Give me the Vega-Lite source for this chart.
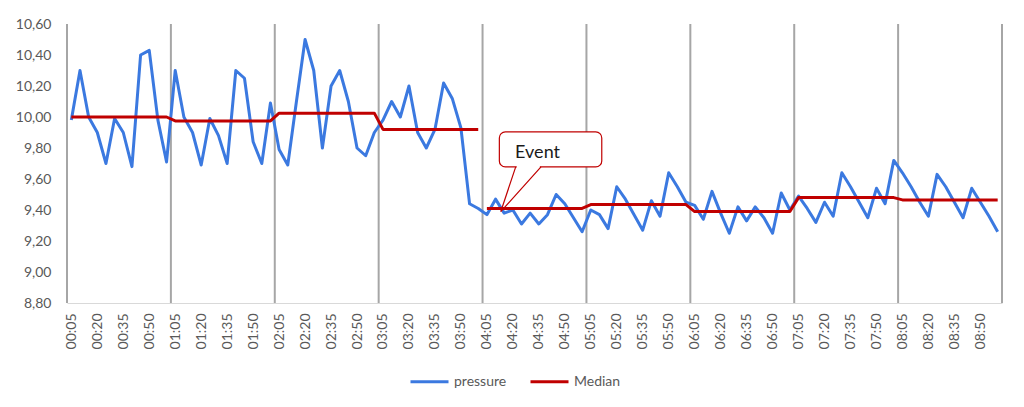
{
  "$schema": "https://vega.github.io/schema/vega-lite/v6.json",
  "width": 935,
  "height": 279,
  "autosize": {"type": "none"},
  "padding": {"left": 67, "top": 24, "right": 22, "bottom": 104},
  "background": "white",
  "config": {
    "view": {"stroke": null},
    "font": "Lato",
    "axis": {"labelFont": "Lato", "labelFontSize": 14, "labelColor": "#595959", "title": null},
    "axisY": {
      "values": [8.8, 9.0, 9.2, 9.4, 9.6, 9.8, 10.0, 10.2, 10.4, 10.6],
      "labelExpr": "replace(format(datum.value, '.2f'), '.', ',')",
      "labelPadding": 16,
      "ticks": false,
      "grid": false,
      "domain": false,
      "title": null
    }
  },
  "datasets": {
    "series": [
      {"t": "00:05", "i": 0, "pressure": 9.98, "median": 10.0, "seg": 1},
      {"t": "00:10", "i": 1, "pressure": 10.30, "median": 10.0, "seg": 1},
      {"t": "00:15", "i": 2, "pressure": 10.00, "median": 10.0, "seg": 1},
      {"t": "00:20", "i": 3, "pressure": 9.90, "median": 10.0, "seg": 1},
      {"t": "00:25", "i": 4, "pressure": 9.70, "median": 10.0, "seg": 1},
      {"t": "00:30", "i": 5, "pressure": 9.99, "median": 10.0, "seg": 1},
      {"t": "00:35", "i": 6, "pressure": 9.90, "median": 10.0, "seg": 1},
      {"t": "00:40", "i": 7, "pressure": 9.68, "median": 10.0, "seg": 1},
      {"t": "00:45", "i": 8, "pressure": 10.40, "median": 10.0, "seg": 1},
      {"t": "00:50", "i": 9, "pressure": 10.43, "median": 10.0, "seg": 1},
      {"t": "00:55", "i": 10, "pressure": 9.98, "median": 10.0, "seg": 1},
      {"t": "01:00", "i": 11, "pressure": 9.71, "median": 10.0, "seg": 1},
      {"t": "01:05", "i": 12, "pressure": 10.30, "median": 9.975, "seg": 1},
      {"t": "01:10", "i": 13, "pressure": 10.00, "median": 9.975, "seg": 1},
      {"t": "01:15", "i": 14, "pressure": 9.90, "median": 9.975, "seg": 1},
      {"t": "01:20", "i": 15, "pressure": 9.69, "median": 9.975, "seg": 1},
      {"t": "01:25", "i": 16, "pressure": 9.99, "median": 9.975, "seg": 1},
      {"t": "01:30", "i": 17, "pressure": 9.88, "median": 9.975, "seg": 1},
      {"t": "01:35", "i": 18, "pressure": 9.70, "median": 9.975, "seg": 1},
      {"t": "01:40", "i": 19, "pressure": 10.30, "median": 9.975, "seg": 1},
      {"t": "01:45", "i": 20, "pressure": 10.25, "median": 9.975, "seg": 1},
      {"t": "01:50", "i": 21, "pressure": 9.84, "median": 9.975, "seg": 1},
      {"t": "01:55", "i": 22, "pressure": 9.70, "median": 9.975, "seg": 1},
      {"t": "02:00", "i": 23, "pressure": 10.09, "median": 9.975, "seg": 1},
      {"t": "02:05", "i": 24, "pressure": 9.79, "median": 10.025, "seg": 1},
      {"t": "02:10", "i": 25, "pressure": 9.69, "median": 10.025, "seg": 1},
      {"t": "02:15", "i": 26, "pressure": 10.10, "median": 10.025, "seg": 1},
      {"t": "02:20", "i": 27, "pressure": 10.50, "median": 10.025, "seg": 1},
      {"t": "02:25", "i": 28, "pressure": 10.30, "median": 10.025, "seg": 1},
      {"t": "02:30", "i": 29, "pressure": 9.80, "median": 10.025, "seg": 1},
      {"t": "02:35", "i": 30, "pressure": 10.20, "median": 10.025, "seg": 1},
      {"t": "02:40", "i": 31, "pressure": 10.30, "median": 10.025, "seg": 1},
      {"t": "02:45", "i": 32, "pressure": 10.10, "median": 10.025, "seg": 1},
      {"t": "02:50", "i": 33, "pressure": 9.80, "median": 10.025, "seg": 1},
      {"t": "02:55", "i": 34, "pressure": 9.75, "median": 10.025, "seg": 1},
      {"t": "03:00", "i": 35, "pressure": 9.90, "median": 10.025, "seg": 1},
      {"t": "03:05", "i": 36, "pressure": 9.98, "median": 9.92, "seg": 1},
      {"t": "03:10", "i": 37, "pressure": 10.10, "median": 9.92, "seg": 1},
      {"t": "03:15", "i": 38, "pressure": 10.00, "median": 9.92, "seg": 1},
      {"t": "03:20", "i": 39, "pressure": 10.20, "median": 9.92, "seg": 1},
      {"t": "03:25", "i": 40, "pressure": 9.90, "median": 9.92, "seg": 1},
      {"t": "03:30", "i": 41, "pressure": 9.80, "median": 9.92, "seg": 1},
      {"t": "03:35", "i": 42, "pressure": 9.92, "median": 9.92, "seg": 1},
      {"t": "03:40", "i": 43, "pressure": 10.22, "median": 9.92, "seg": 1},
      {"t": "03:45", "i": 44, "pressure": 10.12, "median": 9.92, "seg": 1},
      {"t": "03:50", "i": 45, "pressure": 9.93, "median": 9.92, "seg": 1},
      {"t": "03:55", "i": 46, "pressure": 9.44, "median": 9.92, "seg": 1},
      {"t": "04:00", "i": 47, "pressure": 9.41, "median": 9.92, "seg": 1},
      {"t": "04:05", "i": 48, "pressure": 9.37, "median": 9.41, "seg": 2},
      {"t": "04:10", "i": 49, "pressure": 9.47, "median": 9.41, "seg": 2},
      {"t": "04:15", "i": 50, "pressure": 9.38, "median": 9.41, "seg": 2},
      {"t": "04:20", "i": 51, "pressure": 9.40, "median": 9.41, "seg": 2},
      {"t": "04:25", "i": 52, "pressure": 9.31, "median": 9.41, "seg": 2},
      {"t": "04:30", "i": 53, "pressure": 9.38, "median": 9.41, "seg": 2},
      {"t": "04:35", "i": 54, "pressure": 9.31, "median": 9.41, "seg": 2},
      {"t": "04:40", "i": 55, "pressure": 9.37, "median": 9.41, "seg": 2},
      {"t": "04:45", "i": 56, "pressure": 9.50, "median": 9.41, "seg": 2},
      {"t": "04:50", "i": 57, "pressure": 9.44, "median": 9.41, "seg": 2},
      {"t": "04:55", "i": 58, "pressure": 9.35, "median": 9.41, "seg": 2},
      {"t": "05:00", "i": 59, "pressure": 9.26, "median": 9.41, "seg": 2},
      {"t": "05:05", "i": 60, "pressure": 9.40, "median": 9.435, "seg": 2},
      {"t": "05:10", "i": 61, "pressure": 9.37, "median": 9.435, "seg": 2},
      {"t": "05:15", "i": 62, "pressure": 9.28, "median": 9.435, "seg": 2},
      {"t": "05:20", "i": 63, "pressure": 9.55, "median": 9.435, "seg": 2},
      {"t": "05:25", "i": 64, "pressure": 9.47, "median": 9.435, "seg": 2},
      {"t": "05:30", "i": 65, "pressure": 9.37, "median": 9.435, "seg": 2},
      {"t": "05:35", "i": 66, "pressure": 9.27, "median": 9.435, "seg": 2},
      {"t": "05:40", "i": 67, "pressure": 9.46, "median": 9.435, "seg": 2},
      {"t": "05:45", "i": 68, "pressure": 9.36, "median": 9.435, "seg": 2},
      {"t": "05:50", "i": 69, "pressure": 9.64, "median": 9.435, "seg": 2},
      {"t": "05:55", "i": 70, "pressure": 9.55, "median": 9.435, "seg": 2},
      {"t": "06:00", "i": 71, "pressure": 9.45, "median": 9.435, "seg": 2},
      {"t": "06:05", "i": 72, "pressure": 9.43, "median": 9.39, "seg": 2},
      {"t": "06:10", "i": 73, "pressure": 9.34, "median": 9.39, "seg": 2},
      {"t": "06:15", "i": 74, "pressure": 9.52, "median": 9.39, "seg": 2},
      {"t": "06:20", "i": 75, "pressure": 9.38, "median": 9.39, "seg": 2},
      {"t": "06:25", "i": 76, "pressure": 9.25, "median": 9.39, "seg": 2},
      {"t": "06:30", "i": 77, "pressure": 9.42, "median": 9.39, "seg": 2},
      {"t": "06:35", "i": 78, "pressure": 9.33, "median": 9.39, "seg": 2},
      {"t": "06:40", "i": 79, "pressure": 9.42, "median": 9.39, "seg": 2},
      {"t": "06:45", "i": 80, "pressure": 9.35, "median": 9.39, "seg": 2},
      {"t": "06:50", "i": 81, "pressure": 9.25, "median": 9.39, "seg": 2},
      {"t": "06:55", "i": 82, "pressure": 9.51, "median": 9.39, "seg": 2},
      {"t": "07:00", "i": 83, "pressure": 9.40, "median": 9.39, "seg": 2},
      {"t": "07:05", "i": 84, "pressure": 9.49, "median": 9.48, "seg": 2},
      {"t": "07:10", "i": 85, "pressure": 9.41, "median": 9.48, "seg": 2},
      {"t": "07:15", "i": 86, "pressure": 9.32, "median": 9.48, "seg": 2},
      {"t": "07:20", "i": 87, "pressure": 9.45, "median": 9.48, "seg": 2},
      {"t": "07:25", "i": 88, "pressure": 9.36, "median": 9.48, "seg": 2},
      {"t": "07:30", "i": 89, "pressure": 9.64, "median": 9.48, "seg": 2},
      {"t": "07:35", "i": 90, "pressure": 9.55, "median": 9.48, "seg": 2},
      {"t": "07:40", "i": 91, "pressure": 9.45, "median": 9.48, "seg": 2},
      {"t": "07:45", "i": 92, "pressure": 9.35, "median": 9.48, "seg": 2},
      {"t": "07:50", "i": 93, "pressure": 9.54, "median": 9.48, "seg": 2},
      {"t": "07:55", "i": 94, "pressure": 9.44, "median": 9.48, "seg": 2},
      {"t": "08:00", "i": 95, "pressure": 9.72, "median": 9.48, "seg": 2},
      {"t": "08:05", "i": 96, "pressure": 9.64, "median": 9.465, "seg": 2},
      {"t": "08:10", "i": 97, "pressure": 9.55, "median": 9.465, "seg": 2},
      {"t": "08:15", "i": 98, "pressure": 9.45, "median": 9.465, "seg": 2},
      {"t": "08:20", "i": 99, "pressure": 9.36, "median": 9.465, "seg": 2},
      {"t": "08:25", "i": 100, "pressure": 9.63, "median": 9.465, "seg": 2},
      {"t": "08:30", "i": 101, "pressure": 9.55, "median": 9.465, "seg": 2},
      {"t": "08:35", "i": 102, "pressure": 9.45, "median": 9.465, "seg": 2},
      {"t": "08:40", "i": 103, "pressure": 9.35, "median": 9.465, "seg": 2},
      {"t": "08:45", "i": 104, "pressure": 9.54, "median": 9.465, "seg": 2},
      {"t": "08:50", "i": 105, "pressure": 9.45, "median": 9.465, "seg": 2},
      {"t": "08:55", "i": 106, "pressure": 9.36, "median": 9.465, "seg": 2},
      {"t": "09:00", "i": 107, "pressure": 9.26, "median": 9.465, "seg": 2}
    ],
    "hourlines": [
      {"i": -0.5}, {"i": 11.5}, {"i": 23.5}, {"i": 35.5}, {"i": 47.5},
      {"i": 59.5}, {"i": 71.5}, {"i": 83.5}, {"i": 95.5}, {"i": 107.5}
    ],
    "calloutBox": [{"i": 49.44, "i2": 61.27, "v": 9.904, "v2": 9.678}],
    "calloutGap": [{"i": 51.45, "i2": 54.12, "v": 9.678}],
    "calloutPointer": [
      {"k": 0, "i": 51.33, "v": 9.678},
      {"k": 1, "i": 49.6, "v": 9.389},
      {"k": 2, "i": 54.25, "v": 9.678}
    ],
    "calloutText": [{"i": 51.26, "v": 9.766, "label": "Event"}]
  },
  "encoding": {
    "x": {
      "field": "i",
      "type": "quantitative",
      "scale": {"domain": [-0.5, 107.5], "nice": false, "zero": false},
      "axis": {
        "values": [0, 3, 6, 9, 12, 15, 18, 21, 24, 27, 30, 33, 36, 39, 42, 45, 48, 51, 54, 57, 60, 63, 66, 69, 72, 75, 78, 81, 84, 87, 90, 93, 96, 99, 102, 105],
        "labelExpr": "timeFormat(datetime(2000, 0, 1, 0, 5 + 5 * datum.value), '%H:%M')",
        "labelAngle": -90,
        "labelPadding": 10,
        "labelOverlap": false,
        "labelFlush": false,
        "ticks": false,
        "grid": false,
        "domain": true,
        "domainColor": "#d9d9d9",
        "domainWidth": 1,
        "title": null
      }
    }
  },
  "layer": [
    {
      "data": {"name": "hourlines"},
      "mark": {"type": "rule", "color": "#a6a6a6", "strokeWidth": 2}
    },
    {
      "data": {"name": "series"},
      "mark": {"type": "line", "strokeWidth": 3, "strokeJoin": "round"},
      "encoding": {
        "y": {
          "field": "pressure",
          "type": "quantitative",
          "scale": {"domain": [8.8, 10.6], "nice": false, "zero": false},
          "title": null
        },
        "color": {
          "datum": "pressure",
          "type": "nominal",
          "scale": {"domain": ["pressure", "Median"], "range": ["#3b79e0", "#c00000"]},
          "legend": {
            "orient": "none",
            "legendX": 342,
            "legendY": 337,
            "direction": "horizontal",
            "title": null,
            "symbolType": "stroke",
            "symbolSize": 1444,
            "symbolStrokeWidth": 3,
            "labelFontSize": 14,
            "labelFont": "Lato",
            "labelColor": "#595959",
            "labelOffset": 4,
            "columnPadding": 17
          }
        }
      }
    },
    {
      "data": {"name": "series"},
      "mark": {"type": "line", "strokeWidth": 3, "strokeJoin": "round"},
      "encoding": {
        "y": {"field": "median", "type": "quantitative", "title": null},
        "detail": {"field": "seg", "type": "nominal"},
        "color": {"datum": "Median", "type": "nominal"}
      }
    },
    {
      "data": {"name": "calloutBox"},
      "mark": {"type": "rect", "fill": "white", "stroke": "#c00000", "strokeWidth": 1.2, "cornerRadius": 6},
      "encoding": {
        "x2": {"field": "i2"},
        "y": {"field": "v", "type": "quantitative", "title": null},
        "y2": {"field": "v2"}
      }
    },
    {
      "data": {"name": "calloutGap"},
      "mark": {"type": "rule", "color": "white", "strokeWidth": 2.5},
      "encoding": {
        "x2": {"field": "i2"},
        "y": {"field": "v", "type": "quantitative", "title": null}
      }
    },
    {
      "data": {"name": "calloutPointer"},
      "mark": {"type": "line", "color": "#c00000", "strokeWidth": 1.2},
      "encoding": {
        "y": {"field": "v", "type": "quantitative", "title": null},
        "order": {"field": "k", "type": "quantitative"}
      }
    },
    {
      "data": {"name": "calloutText"},
      "mark": {"type": "text", "align": "left", "baseline": "middle", "font": "Lato", "fontSize": 18, "color": "#1a1a1a"},
      "encoding": {
        "y": {"field": "v", "type": "quantitative", "title": null},
        "text": {"field": "label", "type": "nominal"}
      }
    }
  ]
}
